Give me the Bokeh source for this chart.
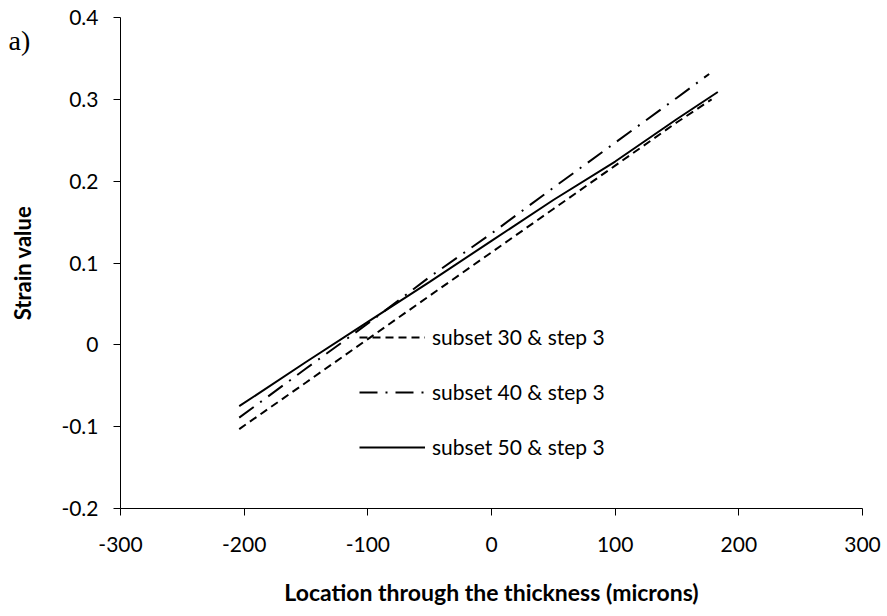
from bokeh.plotting import figure
from bokeh.models import Range1d, Legend, LegendItem, Label, FixedTicker
from bokeh.embed import file_html
from bokeh.resources import INLINE

# Location through the thickness (microns)
x_s30 = [-204, -150, -100, -50, 0, 50, 100, 150, 178]
x_s40 = [-204, -150, -100, -50, 0, 50, 100, 150, 176]
x_s50 = [-204, -150, -100, -50, 0, 50, 100, 150, 183]

# Strain values for each subset size (step 3)
y_s30 = [-0.103, -0.046, 0.007, 0.060, 0.113, 0.166, 0.219, 0.272, 0.300]
y_s40 = [-0.089, -0.029, 0.026, 0.083, 0.136, 0.192, 0.247, 0.302, 0.331]
y_s50 = [-0.075, -0.021, 0.028, 0.077, 0.127, 0.177, 0.224, 0.276, 0.309]

labels = ["subset 30 & step 3", "subset 40 & step 3", "subset 50 & step 3"]

x_ticks = [-300, -200, -100, 0, 100, 200, 300]
y_ticks = [-0.2, -0.1, 0, 0.1, 0.2, 0.3, 0.4]

FONT = "Lato"

p = figure(width=887, height=616, output_backend="svg", toolbar_location=None,
           x_range=Range1d(-300, 300), y_range=Range1d(-0.2, 0.4),
           min_border_left=120, min_border_right=25,
           min_border_top=17, min_border_bottom=108)

p.outline_line_color = None
p.grid.visible = False
p.background_fill_color = "white"
p.border_fill_color = "white"

r30 = p.line(x_s30, y_s30, line_color="black", line_width=2, line_dash="8 5")
r40 = p.line(x_s40, y_s40, line_color="black", line_width=2, line_dash="18 8 2 8")
r50 = p.line(x_s50, y_s50, line_color="black", line_width=2)

for ax in (p.xaxis[0], p.yaxis[0]):
    ax.axis_line_color = "black"
    ax.axis_line_width = 1
    ax.major_tick_line_color = "black"
    ax.major_tick_in = 0
    ax.major_tick_out = 7
    ax.minor_tick_line_color = None
    ax.major_label_text_font = FONT
    ax.major_label_text_font_size = "21px"
    ax.major_label_text_color = "black"
    ax.axis_label_text_font = FONT
    ax.axis_label_text_font_style = "bold"
    ax.axis_label_text_color = "black"

p.xaxis.ticker = FixedTicker(ticks=x_ticks)
p.yaxis.ticker = FixedTicker(ticks=y_ticks)
p.xaxis.major_label_overrides = {t: str(t) for t in x_ticks}
p.yaxis.major_label_overrides = {t: ("0" if t == 0 else f"{t:g}") for t in y_ticks}
p.xaxis.major_label_standoff = 21
p.yaxis.major_label_standoff = 15
p.xaxis.axis_label = "Location through the thickness (microns)"
p.yaxis.axis_label = "Strain value"
p.xaxis.axis_label_text_font_size = "23px"
p.yaxis.axis_label_text_font_size = "22px"
p.xaxis.axis_label_standoff = 23
p.yaxis.axis_label_standoff = 22

legend = Legend(items=[LegendItem(label=labels[0], renderers=[r30]),
                       LegendItem(label=labels[1], renderers=[r40]),
                       LegendItem(label=labels[2], renderers=[r50])],
                location=(239, 49), orientation="vertical",
                border_line_color=None, background_fill_alpha=0,
                padding=0, margin=0, spacing=30,
                glyph_width=66, glyph_height=20, label_height=20,
                label_standoff=7,
                label_text_font=FONT, label_text_font_size="21px",
                label_text_color="black")
p.add_layout(legend, "center")

# panel tag in the top-left corner; hosted by the narrow right-hand panel
# so that it does not widen the y-axis side, then offset to the far left
p.add_layout(Label(x=-854, y=468, x_units="screen", y_units="screen",
                   text="a)", text_font="Liberation Serif",
                   text_font_size="28px", text_color="black",
                   text_baseline="middle", text_align="left"), "right")

open("out.html", "w").write(file_html(p, INLINE))
